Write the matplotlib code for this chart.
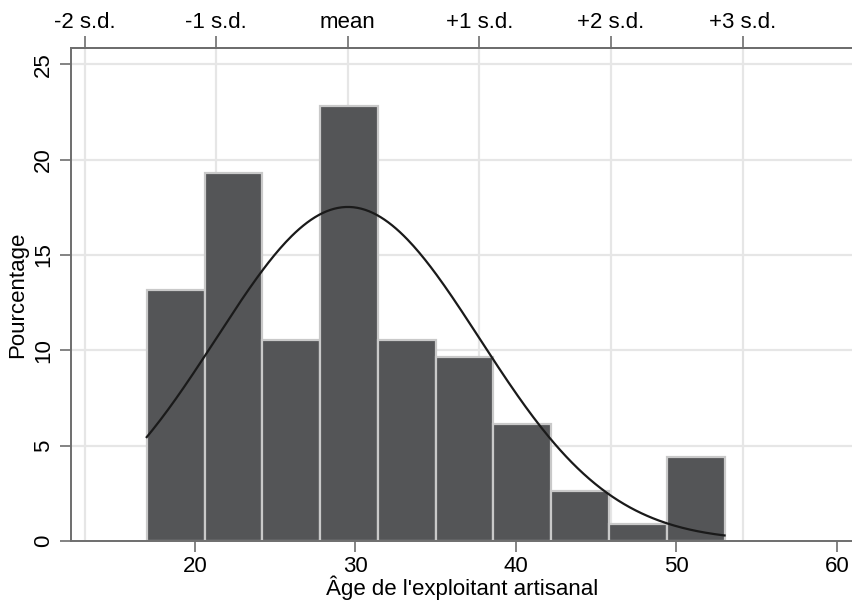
import numpy as np
import matplotlib
matplotlib.use('Agg')
import matplotlib.pyplot as plt

plt.rcParams['font.family'] = ['Liberation Sans', 'DejaVu Sans']

# histogram bins (age) and percentages
BIN_EDGES = [17.0, 20.6, 24.2, 27.8, 31.4, 35.0, 38.6, 42.2, 45.8, 49.4, 53.0]
PERCENTS = [13.16, 19.30, 10.53, 22.81, 10.53, 9.65, 6.14, 2.63, 0.88, 4.39]

# normal fit
AGE_MEAN = 29.53
AGE_SD = 8.2

Y_TICKS = [0, 5, 10, 15, 20, 25]
X_TICKS = [20, 30, 40, 50, 60]
SD_STEPS = [-2, -1, 0, 1, 2, 3]
SD_LABELS = ['-2 s.d.', '-1 s.d.', 'mean', '+1 s.d.', '+2 s.d.', '+3 s.d.']

BAR_COLOR = '#545557'
EDGE_COLOR = '#c9c9c9'
GRID_COLOR = '#e6e6e6'
SPINE_COLOR = '#6e6e6e'

fig = plt.figure(figsize=(8.53, 6.02), dpi=100)
ax = fig.add_axes([0.0832, 0.1013, 0.9168, 0.819])

lefts = BIN_EDGES[:-1]
widths = np.diff(BIN_EDGES)
ax.bar(lefts, PERCENTS, width=widths, align='edge', color=BAR_COLOR,
       edgecolor=EDGE_COLOR, linewidth=1.6, zorder=2)

# normal density scaled to percent per bin
xs = np.linspace(BIN_EDGES[0], BIN_EDGES[-1], 300)
bw = widths[0]
ys = 100 * bw / (AGE_SD * np.sqrt(2 * np.pi)) * np.exp(-0.5 * ((xs - AGE_MEAN) / AGE_SD) ** 2)
ax.plot(xs, ys, color='#1a1a1a', linewidth=1.6, zorder=3)

ax.set_xlim(12.28, 61.0)
ax.set_ylim(0, 25.85)
ax.set_xticks(X_TICKS)
ax.set_yticks(Y_TICKS)
ax.tick_params(axis='x', labelsize=16, length=8, width=1.2, color=SPINE_COLOR, pad=3)
ax.tick_params(axis='y', labelsize=16, length=8, width=1.2, color=SPINE_COLOR, pad=4)
for lab in ax.get_yticklabels():
    lab.set_rotation(90)
    lab.set_va('center')

# horizontal grid at y ticks
for y in Y_TICKS[1:]:
    ax.axhline(y, color=GRID_COLOR, linewidth=1.6, zorder=0)

ax.set_xlabel("\u00c2ge de l'exploitant artisanal", fontsize=16, labelpad=-1)
ax.set_ylabel('Pourcentage', fontsize=16, labelpad=4)

for side in ['left', 'bottom', 'top']:
    ax.spines[side].set_color(SPINE_COLOR)
    ax.spines[side].set_linewidth(1.4)
ax.spines['right'].set_visible(False)

# top axis with s.d. marks
top = ax.twiny()
top.set_xlim(ax.get_xlim())
sd_pos = [AGE_MEAN + k * AGE_SD for k in SD_STEPS]
top.set_xticks(sd_pos)
top.set_xticklabels(SD_LABELS)
top.tick_params(axis='x', labelsize=16, length=9, width=1.2, color=SPINE_COLOR, pad=2)
for side in ['left', 'right', 'bottom']:
    top.spines[side].set_visible(False)
top.spines['top'].set_color(SPINE_COLOR)
top.spines['top'].set_linewidth(1.4)

for x in sd_pos:
    ax.axvline(x, color=GRID_COLOR, linewidth=1.6, zorder=0)

fig.savefig('out.png', dpi=100)
